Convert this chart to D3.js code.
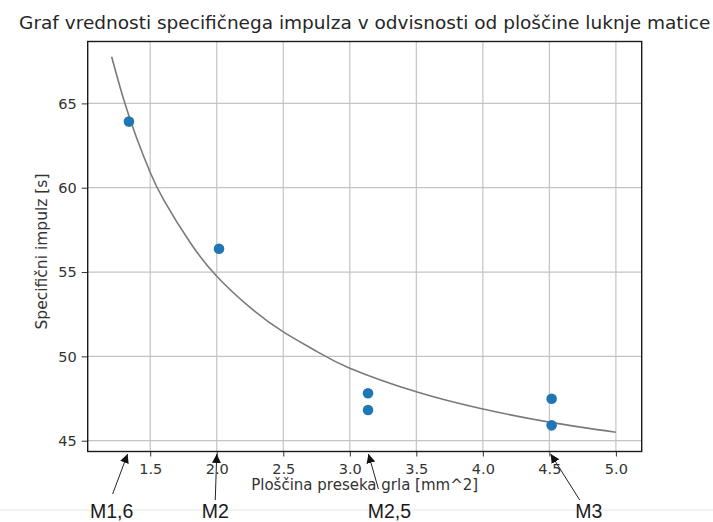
<!DOCTYPE html>
<html>
<head>
<meta charset="utf-8">
<script src="https://cdn.jsdelivr.net/npm/d3@7"></script>
<style>
  body { margin: 0; background: #fff; }
  svg text { font-family: "DejaVu Sans", sans-serif; fill: #262626; }
  .grid line { stroke: #c4c4c4; stroke-width: 1.2; }
  .anno text { font-family: "Liberation Sans", Arial, sans-serif; fill: #1a1a1a; }
</style>
</head>
<body>
<div id="chart"></div>
<script>
// measured points
const pointX = [1.34, 2.017, 3.137, 3.137, 4.517, 4.517];
const pointY = [63.92, 56.38, 47.81, 46.82, 47.49, 45.91];

// fitted curve
const curveX = [1.21, 1.3, 1.4, 1.5, 1.6, 1.8, 2.0, 2.25, 2.5, 2.75, 3.0, 3.5, 4.0, 4.5, 5.0];
const curveY = [67.77, 65.25, 62.9, 60.9, 59.3, 56.75, 54.75, 52.9, 51.45, 50.3, 49.3, 47.9, 46.88, 46.1, 45.5];

const xTicks = [1.5, 2.0, 2.5, 3.0, 3.5, 4.0, 4.5, 5.0];
const yTicks = [45, 50, 55, 60, 65];

// annotations below the axis
const annoLabels = ["M1,6", "M2", "M2,5", "M3"];
const annoX = [1.33, 2.0, 3.14, 4.51];

const W = 713, H = 522;
const margin = {top: 41.5, right: 71.3, bottom: 70.5, left: 87.7},
    width = W - margin.left - margin.right,
    height = H - margin.top - margin.bottom;

const svg = d3.select("#chart").append("svg")
    .attr("width", W)
    .attr("height", H);

// faint page line behind the labels
svg.append("line")
    .attr("x1", 0).attr("x2", W)
    .attr("y1", 510).attr("y2", 510)
    .style("stroke", "#e8e8e8")
    .style("stroke-width", 1.2);

const g = svg.append("g")
    .attr("transform", "translate(" + margin.left + "," + margin.top + ")");

const x = d3.scaleLinear().domain([1.03, 5.194]).range([0, width]);
const y = d3.scaleLinear().domain([44.36, 68.67]).range([height, 0]);

// grid
g.append("g").attr("class", "grid")
    .selectAll("line").data(xTicks).join("line")
    .attr("x1", d => x(d)).attr("x2", d => x(d))
    .attr("y1", 0).attr("y2", height);
g.append("g").attr("class", "grid")
    .selectAll("line").data(yTicks).join("line")
    .attr("x1", 0).attr("x2", width)
    .attr("y1", d => y(d)).attr("y2", d => y(d));

// curve
const line = d3.line()
    .x(function (d) { return x(d[0]); })
    .y(function (d) { return y(d[1]); })
    .curve(d3.curveNatural);

g.append("path")
    .datum(curveX.map((v, i) => [v, curveY[i]]))
    .attr("d", line)
    .style("fill", "none")
    .style("stroke", "#7a7a7a")
    .style("stroke-width", 1.6);

// points
g.selectAll("circle.pt").data(pointX).join("circle")
    .attr("class", "pt")
    .attr("cx", d => x(d))
    .attr("cy", (d, i) => y(pointY[i]))
    .attr("r", 5.3)
    .style("fill", "#1f77b4");

// axes
const xAxis = g.append("g")
    .attr("transform", "translate(0," + height + ")")
    .call(d3.axisBottom(x).tickValues(xTicks).tickFormat(d3.format(".1f")).tickSize(5).tickPadding(7));
const yAxis = g.append("g")
    .call(d3.axisLeft(y).tickValues(yTicks).tickSize(6).tickPadding(5));
[xAxis, yAxis].forEach(a => {
    a.select(".domain").remove();
    a.selectAll("line").style("stroke", "#333").style("stroke-width", 1);
    a.selectAll("text").style("font-size", "14.5px").style("fill", "#333")
        .style("font-family", "DejaVu Sans, sans-serif");
});

// frame
g.append("rect")
    .attr("width", width).attr("height", height)
    .style("fill", "none")
    .style("stroke", "#1a1a1a")
    .style("stroke-width", 1.4);

// title and axis labels
svg.append("text")
    .attr("x", margin.left + width / 2)
    .attr("y", 29)
    .attr("text-anchor", "middle")
    .style("font-size", "18.5px")
    .text("Graf vrednosti specifičnega impulza v odvisnosti od ploščine luknje matice");

svg.append("text")
    .attr("x", margin.left + width / 2)
    .attr("y", 490)
    .attr("text-anchor", "middle")
    .style("font-size", "15px")
    .style("fill", "#333")
    .text("Ploščina preseka grla [mm^2]");

svg.append("text")
    .attr("transform", "translate(47," + (margin.top + height / 2 + 5) + ") rotate(-90)")
    .attr("text-anchor", "middle")
    .style("font-size", "15.5px")
    .style("fill", "#333")
    .text("Specifični impulz [s]");

// arrows to the axis
const defs = svg.append("defs");
defs.append("marker")
    .attr("id", "head")
    .attr("viewBox", "0 0 10 10")
    .attr("refX", 10).attr("refY", 5)
    .attr("markerWidth", 9).attr("markerHeight", 9)
    .attr("markerUnits", "userSpaceOnUse")
    .attr("orient", "auto")
    .append("path")
    .attr("d", "M0,0 L10,5 L0,10 z")
    .style("fill", "#111");

const tail = [{dx: -15, y: 494}, {dx: -1.5, y: 500}, {dx: 10, y: 489}, {dx: 29, y: 500}];
const labelDx = [-16, -1.5, 21, 38];

const anno = svg.append("g").attr("class", "anno");
annoX.forEach(function (v, i) {
    const hx = margin.left + x(v);
    anno.append("line")
        .attr("x1", hx + tail[i].dx).attr("y1", tail[i].y)
        .attr("x2", hx).attr("y2", margin.top + height + 2.5)
        .attr("marker-end", "url(#head)")
        .style("stroke", "#222")
        .style("stroke-width", 1);
    anno.append("text")
        .attr("x", hx + labelDx[i])
        .attr("y", 517.5)
        .attr("text-anchor", "middle")
        .style("font-size", "19.5px")
        .text(annoLabels[i]);
});
</script>
</body>
</html>
